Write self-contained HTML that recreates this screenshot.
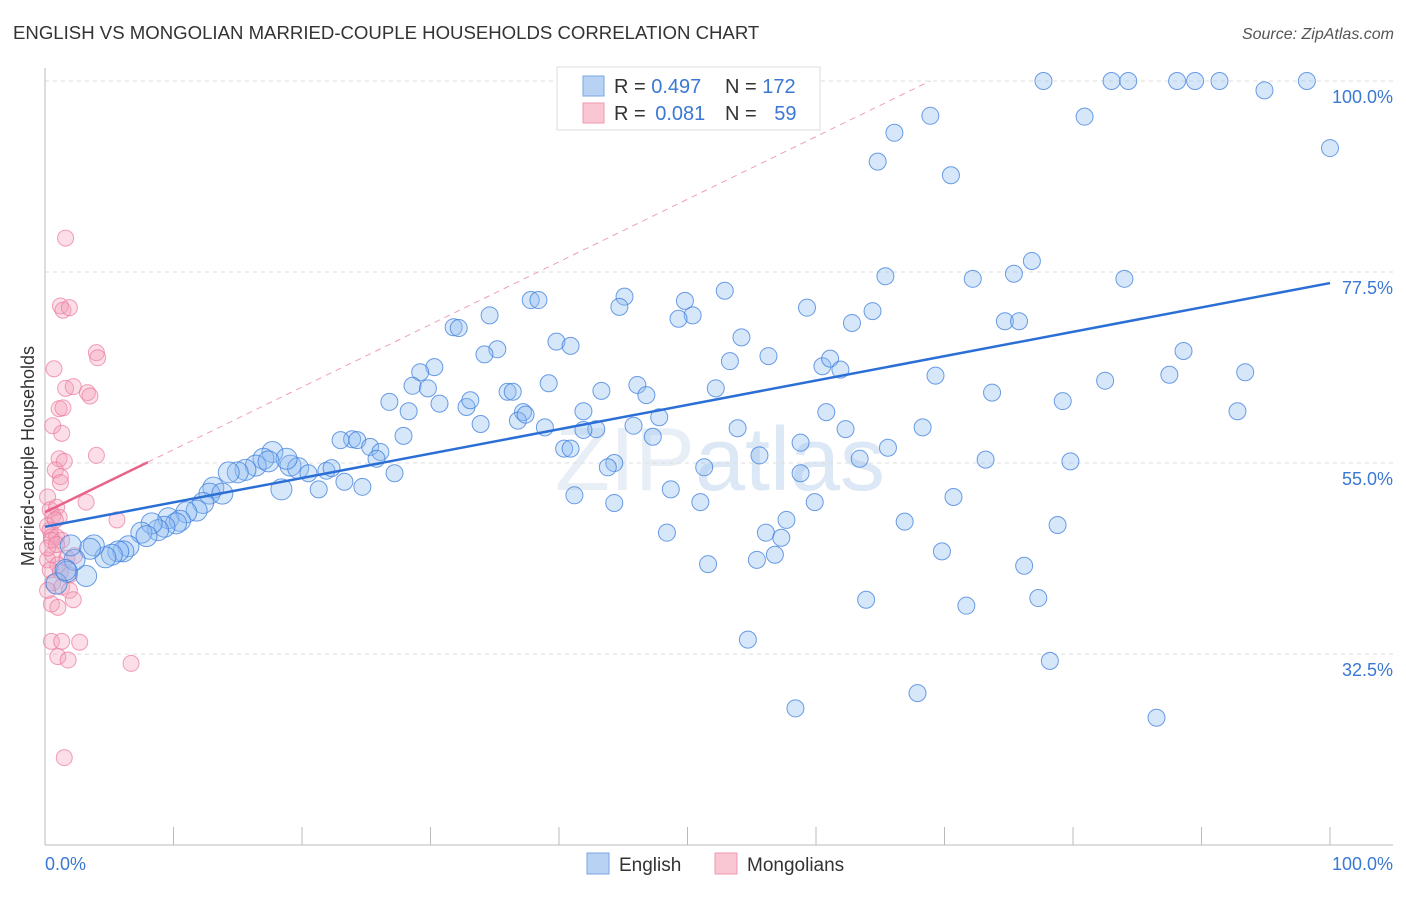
<!DOCTYPE html>
<html><head><meta charset="utf-8"><style>
body{margin:0;background:#fff;font-family:"Liberation Sans",sans-serif;}
svg text{font-family:"Liberation Sans",sans-serif;}
</style></head><body>
<svg id="chart" width="1406" height="892" xmlns="http://www.w3.org/2000/svg">
<text x="13" y="39" font-size="18.6" fill="#333">ENGLISH VS MONGOLIAN MARRIED-COUPLE HOUSEHOLDS CORRELATION CHART</text>
<text x="1394" y="39" font-size="16" fill="#555" text-anchor="end" font-style="italic">Source: ZipAtlas.com</text>
<text x="720" y="490" font-size="90" fill="#e8eef5" text-anchor="middle" font-family="Liberation Serif">ZIP<tspan font-family="Liberation Sans" fill="#dce8f5">atlas</tspan></text>
<g id="grid"></g>
<g id="axes"></g>
<g id="pink"></g>
<g id="blue"></g>
<g id="trends"></g>
<text transform="translate(34,456) rotate(-90)" font-size="18" fill="#333" text-anchor="middle">Married-couple Households</text>
<text x="45" y="870" font-size="18" fill="#3a78d4">0.0%</text>
<text x="1393" y="870" font-size="18" fill="#3a78d4" text-anchor="end">100.0%</text>
<g>
<rect x="557" y="67" width="263" height="63" fill="#fff" stroke="#ddd"/>
<rect x="583" y="76" width="21" height="20" fill="#b8d2f4" stroke="#7aa6e3"/>
<rect x="583" y="103" width="21" height="20" fill="#f9c6d4" stroke="#ee98b0"/>
<text x="614" y="93" font-size="20" fill="#333">R = <tspan fill="#3a78d4">0.497</tspan></text>
<text x="725" y="93" font-size="20" fill="#333">N = <tspan fill="#3a78d4">172</tspan></text>
<text x="614" y="120" font-size="20" fill="#333">R = <tspan fill="#3a78d4" dx="4">0.081</tspan></text>
<text x="725" y="120" font-size="20" fill="#333">N = <tspan fill="#3a78d4" dx="12">59</tspan></text>
</g>
<g>
<rect x="587" y="853" width="22" height="21" fill="#b8d2f4" stroke="#7aa6e3"/>
<text x="619" y="871" font-size="19" fill="#333">English</text>
<rect x="715" y="853" width="22" height="21" fill="#f9c6d4" stroke="#ee98b0"/>
<text x="747" y="871" font-size="19" fill="#333">Mongolians</text>
</g>
</svg>
<script>
const yTicks=[100,77.5,55,32.5];
const yTickLabels=["100.0%","77.5%","55.0%","32.5%"];
const xTicks=[0,10,20,30,40,50,60,70,80,90,100];
const blueX=[77.7,83.0,84.3,88.1,89.5,91.4,98.2,94.9,68.9,80.9,100,66.1,64.8,70.5,65.4,72.2,75.4,76.8,84.0,74.7,75.8,59.3,62.8,64.4,52.9,49.8,50.4,49.3,45.1,44.7,37.8,38.4,34.6,31.8,32.2,39.8,40.9,35.2,34.2,54.2,56.3,53.3,60.5,61.1,61.9,69.3,73.7,82.5,87.5,88.6,93.4,92.8,79.2,30.3,29.2,28.6,29.8,26.8,28.3,30.7,32.8,33.1,36.0,36.4,39.2,43.3,46.1,46.8,52.2,41.9,37.2,36.8,33.9,38.9,27.9,23.9,23.0,24.3,25.3,26.1,25.8,27.2,24.7,23.3,21.3,18.4,21.9,22.3,19.1,19.7,20.5,17.7,18.8,17.0,16.4,17.4,15.6,15.0,14.3,13.1,12.8,13.8,12.3,11.8,11.0,9.6,10.5,10.2,9.3,8.8,8.3,7.5,7.9,6.5,6.1,5.7,5.2,4.7,3.8,3.5,3.2,2.3,2.0,1.7,0.9,1.6,42.9,45.8,47.3,47.8,53.9,55.6,58.8,65.6,68.3,62.3,60.8,73.2,79.8,63.4,58.8,51.3,48.7,44.3,43.8,41.2,44.3,51.0,56.1,57.7,57.3,59.9,66.9,70.7,78.8,48.4,51.6,55.4,56.8,69.8,76.2,63.9,71.7,77.3,78.2,54.7,67.9,58.4,86.5,40.4,41.9,40.9,37.4];
const blueY=[100,100,100,100,100,100,100,98.9,95.9,95.8,92.1,93.9,90.5,88.9,77.0,76.7,77.3,78.8,76.7,71.7,71.7,73.3,71.5,72.9,75.3,74.1,72.4,72.0,74.6,73.4,74.2,74.2,72.4,71.0,70.9,69.3,68.8,68.4,67.8,69.8,67.6,67.0,66.4,67.3,66.0,65.3,63.3,64.7,65.4,68.2,65.7,61.1,62.3,66.3,65.7,64.1,63.8,62.2,61.1,62.0,61.6,62.4,63.4,63.4,64.4,63.5,64.2,63.0,63.8,61.1,61.0,60.0,59.6,59.2,58.2,57.8,57.7,57.7,56.9,56.3,55.5,53.8,52.2,52.8,51.9,51.9,54.1,54.4,54.7,54.4,53.8,56.3,55.5,55.5,54.7,55.2,54.2,53.9,53.9,52.1,51.4,51.4,50.3,49.4,49.2,48.5,48.2,47.9,47.5,47.1,47.9,46.8,46.4,45.2,44.6,44.6,44.2,43.9,45.3,44.9,41.7,43.6,45.3,42.2,40.8,42.4,59.0,59.4,58.1,60.4,59.1,55.9,57.4,56.8,59.2,59.0,61.0,55.4,55.2,55.5,53.8,54.5,51.9,55.0,54.5,51.2,50.3,50.4,46.8,48.3,46.2,50.4,48.1,51.0,47.7,46.8,43.1,43.6,44.2,44.6,42.9,38.9,38.2,39.1,31.7,34.2,27.9,26.1,25.0,56.7,58.9,56.7,60.7];
const pinkX=[1.6,1.2,1.4,1.9,4.0,4.1,0.7,1.6,2.2,3.3,3.5,1.1,1.4,0.6,1.3,4.0,1.1,1.5,0.8,1.2,1.2,0.2,3.2,5.6,0.4,0.9,0.6,1.1,0.2,0.4,0.5,0.9,1.3,0.6,1.7,0.2,1.0,0.4,1.2,1.9,0.6,1.3,1.9,2.2,0.5,1.0,0.5,1.3,2.7,1.0,1.8,6.7,1.5,0.5,0.8,0.2,0.9,0.2,2.3];
const pinkY=[81.5,73.5,73.0,73.3,68.0,67.4,66.1,63.8,64.0,63.3,62.9,61.4,61.5,59.4,58.5,55.9,55.5,55.2,54.2,53.4,52.7,51.0,50.4,48.3,49.5,49.8,48.8,48.6,47.6,47.1,46.3,46.3,45.9,44.2,43.8,43.6,43.0,42.4,42.2,41.8,40.9,40.4,40.0,38.9,38.4,38.0,34.0,34.0,33.9,32.2,31.8,31.4,20.3,45.9,48.3,45.0,45.4,40.0,44.1];
const blueTrend=[47.5,76.2];
const pinkTrend=[49.2,55.1];
const pinkTrendEndX=8;

const X0=45,X1=1330,Y100=81,PPY=8.49;
function sx(v){return X0+(X1-X0)*v/100;}
function sy(v){return Y100+(100-v)*PPY;}
const NS="http://www.w3.org/2000/svg";
function mk(tag,attrs,parent){const e=document.createElementNS(NS,tag);for(const k in attrs)e.setAttribute(k,attrs[k]);parent.appendChild(e);return e;}
const grid=document.getElementById('grid'),axes=document.getElementById('axes');
yTicks.forEach((t,i)=>{
  const l=mk('line',{x1:X0,x2:1393,y1:sy(t),y2:sy(t),stroke:'#ddd','stroke-dasharray':'4,4'},grid);
  
  
  const tx=mk('text',{x:1393,y:sy(t)+22,'font-size':18,fill:'#3a78d4','text-anchor':'end'},grid);
  tx.textContent=yTickLabels[i];
  
  
});
const xa=mk('line',{x1:X0,x2:1393,y1:845,y2:845,stroke:'#bbb'},axes);


const ya=mk('line',{x1:X0,x2:X0,y1:68,y2:845,stroke:'#bbb'},axes);


xTicks.forEach(t=>{
  const l=mk('line',{x1:sx(t),x2:sx(t),y1:827,y2:845,stroke:'#bbb'},axes);
  
  
});
const pg=document.getElementById('pink');
pinkX.forEach((x,i)=>{
  const c=mk('circle',{cx:sx(x),cy:sy(pinkY[i]),r:8,fill:'rgba(244,160,185,0.35)',stroke:'rgba(236,120,155,0.7)','stroke-width':1},pg);
  
  
});
const bg=document.getElementById('blue');
blueX.forEach((x,i)=>{
  const r=x<20?10.5:8.5;
  const c=mk('circle',{cx:sx(x),cy:sy(blueY[i]),r:r,fill:'rgba(140,185,240,0.35)',stroke:'rgba(60,125,220,0.75)','stroke-width':1},bg);
  
  
});
const tg=document.getElementById('trends');
const slopeP=(pinkTrend[1]-pinkTrend[0])/pinkTrendEndX;
const xEnd=Math.min(100,(100-pinkTrend[0])/slopeP);
const pd=mk('line',{x1:sx(pinkTrendEndX),y1:sy(pinkTrend[1]),x2:sx(xEnd),y2:sy(pinkTrend[0]+slopeP*xEnd),stroke:'#eea0b5','stroke-width':1,'stroke-dasharray':'6,5'},tg);


const pl=mk('line',{x1:sx(0),y1:sy(pinkTrend[0]),x2:sx(pinkTrendEndX),y2:sy(pinkTrend[1]),stroke:'#e8628a','stroke-width':2.5},tg);


const bl=mk('line',{x1:sx(0),y1:sy(blueTrend[0]),x2:sx(100),y2:sy(blueTrend[1]),stroke:'#2b6fd6','stroke-width':2.5},tg);


</script>
</body></html>
